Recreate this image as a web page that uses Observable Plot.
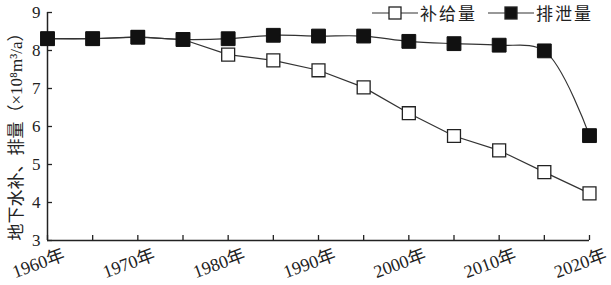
<!DOCTYPE html>
<html><head><meta charset="utf-8">
<script src="https://cdn.jsdelivr.net/npm/d3@7"></script>
<script src="https://cdn.jsdelivr.net/npm/@observablehq/plot@0.6"></script>
<style>
body{margin:0;background:#fff;}
#wrap{position:relative;width:611px;height:285px;font-family:"Liberation Serif","Noto Sans CJK SC",serif;color:#222;}
#legend{position:absolute;top:4px;left:372px;display:flex;align-items:center;font-family:"Noto Sans CJK SC",sans-serif;font-size:17px;line-height:18px;letter-spacing:2px;}
#legend .item{display:flex;align-items:center;}
#legend .item + .item{margin-left:11px;}
#legend svg{display:block;margin-right:2px;}
</style></head>
<body><div id="wrap"><div id="legend"></div></div>
<script>
const years = [1960,1965,1970,1975,1980,1985,1990,1995,2000,2005,2010,2015,2020];
const recharge = [8.31,8.31,8.35,8.29,7.89,7.74,7.48,7.03,6.35,5.75,5.37,4.80,4.24];
const discharge = [8.31,8.31,8.35,8.29,8.31,8.40,8.38,8.38,8.24,8.18,8.14,7.99,5.76];
const seriesNames = ["补给量","排泄量"];
const xTickYears = [1960,1965,1970,1975,1980,1985,1990,1995,2000,2005,2010,2015,2020];
const xLabelYears = [1960,1970,1980,1990,2000,2010,2020];
const yTicks = [3,4,5,6,7,8,9];
const yTitle = "地下水补、排量（×10⁸m³/a）";

const rech = years.map((y,i)=>({year:y,value:recharge[i]}));
const dis = years.map((y,i)=>({year:y,value:discharge[i]}));
const ink = "#222";
const fam = '"Liberation Serif","Noto Sans CJK SC",serif';

const chart = Plot.plot({
  width:611, height:285,
  marginLeft:47, marginRight:22, marginTop:12, marginBottom:45,
  x:{domain:[1960,2020], label:null},
  y:{domain:[3,9], label:null},
  style:{fontFamily:fam, fontSize:"17px", color:ink, background:"transparent", overflow:"visible"},
  marks:[
    Plot.ruleX([1960],{stroke:ink,strokeWidth:1.5}),
    Plot.ruleY([3],{stroke:ink,strokeWidth:1.5}),
    Plot.axisY({ticks:yTicks, tickSize:-5, tickFormat:()=>"", stroke:ink, strokeWidth:1.3, label:null}),
    Plot.axisY({ticks:yTicks, tickSize:0, tickPadding:7, tickFormat:d=>String(d), fontSize:17, label:null}),
    Plot.axisX({ticks:xTickYears, tickSize:-5, tickFormat:()=>"", stroke:ink, strokeWidth:1.3, label:null}),
    Plot.text(xLabelYears,{x:d=>d, text:d=>d+"年", frameAnchor:"bottom", lineAnchor:"middle", textAnchor:"middle", dy:23, dx:-9, rotate:-20, fontSize:18, fill:ink}),
    Plot.line(rech,{x:"year", y:"value", stroke:"#333", strokeWidth:1.2}),
    Plot.dot(rech,{x:"year", y:"value", symbol:"square", r:7.3, fill:"white", stroke:ink, strokeWidth:1.3}),
    Plot.line(dis,{x:"year", y:"value", stroke:"#333", strokeWidth:1.2, curve:"catmull-rom"}),
    Plot.dot(dis,{x:"year", y:"value", symbol:"square", r:7.8, fill:"#111", stroke:"#111", strokeWidth:1}),
    Plot.text([yTitle],{frameAnchor:"left", textAnchor:"middle", dx:-31, dy:6, rotate:-90, fontSize:17, fill:ink})
  ]
});
document.getElementById("wrap").appendChild(chart);

const legend = document.getElementById("legend");
seriesNames.forEach((name,i)=>{
  const item = document.createElement("div");
  item.className = "item";
  const fill = i===0 ? "white" : "#111";
  item.innerHTML = `<svg width="46" height="16"><line x1="0" x2="46" y1="8" y2="8" stroke="#333" stroke-width="1.2"/><rect x="17" y="2" width="12" height="12" fill="${fill}" stroke="#222" stroke-width="1.3"/></svg><span>${name}</span>`;
  legend.appendChild(item);
});
</script>
</body></html>
